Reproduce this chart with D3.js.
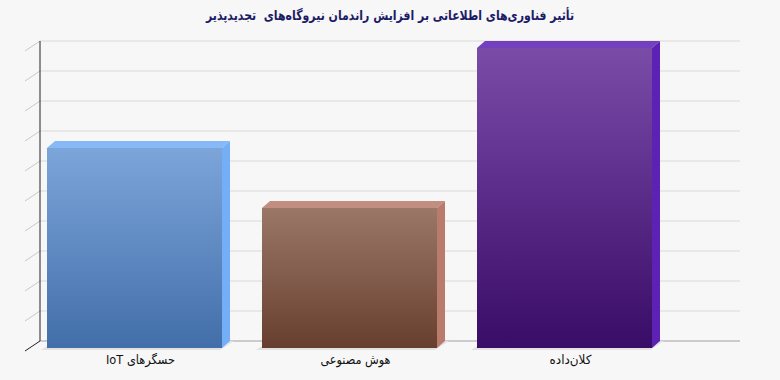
<!DOCTYPE html>
<html>
<head>
<meta charset="utf-8">
<script src="https://cdn.jsdelivr.net/npm/d3@7"></script>
<style>
  body { margin: 0; background: #f7f7f7; }
</style>
</head>
<body>
<div id="chart"></div>
<script>
// data
const categories = ["حسگرهای IoT", "هوش مصنوعی", "کلان‌داده"];
const values = [20, 14, 30];
const yTicks = [0, 3, 6, 9, 12, 15, 18, 21, 24, 27, 30];
const frontTop = ["#7ca5da", "#9a7767", "#7b4ba8"];
const frontBottom = ["#426ea9", "#683f2f", "#390c68"];
const sideColors = ["#74aef7", "#b97b6b", "#5d21b4"];
const titleText = "تأثیر فناوری‌های اطلاعاتی بر افزایش راندمان نیروگاه‌های  تجدیدپذیر";

const width = 780, height = 380;
const depthX = 8, depthY = 7; // bar depth

const svg = d3.select("#chart")
  .append("svg")
  .attr("width", width)
  .attr("height", height)
  .style("font-family", "'DejaVu Sans', sans-serif");

svg.append("rect").attr("width", width).attr("height", height).attr("fill", "#f7f7f7");

const x = d3.scaleBand()
  .domain(categories)
  .range([27, 672])
  .paddingInner(0.186)
  .paddingOuter(0.093);

// y scale for the back wall
const yBack = d3.scaleLinear().domain([0, 30]).range([341, 41]);

const defs = svg.append("defs");
categories.forEach((c, i) => {
  const g = defs.append("linearGradient")
    .attr("id", "grad" + i)
    .attr("x1", 0).attr("y1", 0).attr("x2", 0).attr("y2", 1);
  g.append("stop").attr("offset", "0%").attr("stop-color", frontTop[i]);
  g.append("stop").attr("offset", "100%").attr("stop-color", frontBottom[i]);
});

// gridlines on back wall
svg.append("g")
  .selectAll("line")
  .data(yTicks.slice(1))
  .join("line")
  .attr("x1", 40).attr("x2", 740)
  .attr("y1", (d) => yBack(d)).attr("y2", (d) => yBack(d))
  .attr("stroke", "#d9d9d9");

// left side diagonal ticks
svg.append("g")
  .selectAll("line")
  .data(yTicks)
  .join("line")
  .attr("x1", 25).attr("x2", 40)
  .attr("y1", (d) => yBack(d) + 10).attr("y2", (d) => yBack(d))
  .attr("stroke", (d) => (d === 0 ? "#222" : "#c8c8c8"));

// floor line
svg.append("line")
  .attr("x1", 40).attr("x2", 740)
  .attr("y1", yBack(0)).attr("y2", yBack(0))
  .attr("stroke", "#a0a0a0");

// vertical axis
svg.append("line")
  .attr("x1", 40).attr("x2", 40)
  .attr("y1", yBack(30)).attr("y2", yBack(0))
  .attr("stroke", "#222");

// bars
const bars = svg.append("g")
  .selectAll("g")
  .data(values)
  .join("g");

const front = (d) => ({
  x0: x(categories[values.indexOf(d)]),
  x1: x(categories[values.indexOf(d)]) + x.bandwidth(),
  yt: yBack(d) + depthY,
  yb: yBack(0) + depthY
});

// floor shadow
bars.append("path")
  .attr("d", (d) => {
    const f = front(d);
    return `M${f.x0 - 6},${f.yb + 2} L${f.x1 - 2},${f.yb + 2} L${f.x1 + depthX + 4},${f.yb - depthY} L${f.x0 + depthX},${f.yb - depthY} Z`;
  })
  .attr("fill", "#e2e2e2");

// side face
bars.append("path")
  .attr("d", (d) => {
    const f = front(d);
    return `M${f.x1},${f.yt} L${f.x1 + depthX},${f.yt - depthY} L${f.x1 + depthX},${f.yb - depthY} L${f.x1},${f.yb} Z`;
  })
  .attr("fill", (d, i) => sideColors[i]);

// top face
bars.append("path")
  .attr("d", (d) => {
    const f = front(d);
    return `M${f.x0},${f.yt} L${f.x0 + depthX},${f.yt - depthY} L${f.x1 + depthX},${f.yt - depthY} L${f.x1},${f.yt} Z`;
  })
  .attr("fill", (d, i) => sideColors[i])
  .attr("opacity", 0.85);

// front face
bars.append("rect")
  .attr("x", (d) => front(d).x0)
  .attr("y", (d) => front(d).yt)
  .attr("width", x.bandwidth())
  .attr("height", (d) => front(d).yb - front(d).yt)
  .attr("fill", (d, i) => `url(#grad${i})`);

// category labels (fitted to the narrower widths of the original font)
const labelWidths = [69, 70, 42];
svg.append("g")
  .selectAll("text")
  .data(categories)
  .join("text")
  .attr("x", (d) => x(d) + x.bandwidth() / 2 + 6)
  .attr("y", 364)
  .attr("text-anchor", "middle")
  .attr("direction", "rtl")
  .attr("font-size", "12.5px")
  .attr("fill", "#111")
  .attr("textLength", (d, i) => labelWidths[i])
  .attr("lengthAdjust", "spacingAndGlyphs")
  .text((d) => d);

// title
svg.append("text")
  .attr("x", 390)
  .attr("y", 20)
  .attr("text-anchor", "middle")
  .attr("direction", "rtl")
  .attr("font-size", "13.5px")
  .attr("font-weight", "bold")
  .attr("fill", "#1c1c66")
  .attr("textLength", 368)
  .attr("lengthAdjust", "spacingAndGlyphs")
  .style("white-space", "pre")
  .text(titleText);
</script>
</body>
</html>
